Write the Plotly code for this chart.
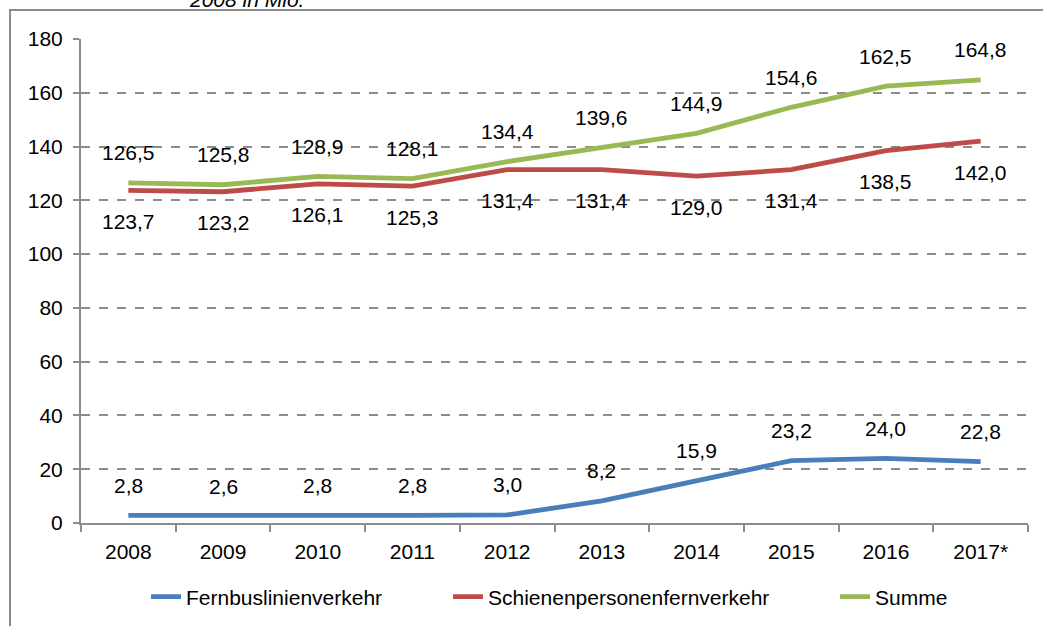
import plotly.graph_objects as go

# Werte (Mio. Fahrgäste)
jahre = ["2008", "2009", "2010", "2011", "2012", "2013", "2014", "2015", "2016", "2017*"]
fernbus = [2.8, 2.6, 2.8, 2.8, 3.0, 8.2, 15.9, 23.2, 24.0, 22.8]
schiene = [123.7, 123.2, 126.1, 125.3, 131.4, 131.4, 129.0, 131.4, 138.5, 142.0]
summe = [126.5, 125.8, 128.9, 128.1, 134.4, 139.6, 144.9, 154.6, 162.5, 164.8]

FONT = "Liberation Sans, Arial, sans-serif"
FS = 21
W, H, L, R, T, B = 1043, 626, 81, 15, 39, 103
PW = W - L - R
PH = H - T - B

serien = [
    ("Fernbuslinienverkehr", fernbus, "#4A7EBB", 30, "legend", 146),
    ("Schienenpersonenfernverkehr", schiene, "#BE4B48", -31, "legend2", 448),
    ("Summe", summe, "#98B954", 30, "legend3", 835),
]

fig = go.Figure()
annos = []
legenden = {}
for name, werte, farbe, shift, leg, lx in serien:
    fig.add_trace(go.Scatter(x=jahre, y=werte, name=name, mode="lines", legend=leg,
                             line=dict(color=farbe, width=4.8)))
    legenden[leg] = dict(xref="container", yref="container", x=lx / W, xanchor="left",
                         y=1 - 597 / H, yanchor="middle", orientation="h",
                         font=dict(family=FONT, size=FS), bgcolor="rgba(0,0,0,0)")
    # Datenbeschriftungen (Kategorie-Index, da "2008" sonst als Zahl gelesen wird)
    for i, v in enumerate(werte):
        annos.append(dict(x=i, y=v, text=f"{v:.1f}".replace(".", ","),
                          showarrow=False, yshift=shift,
                          font=dict(family=FONT, size=FS, color="black")))

# abgeschnittener Titel oben
annos.append(dict(xref="paper", yref="paper", x=(246 - L) / PW, y=1 + 40 / PH,
                  xanchor="center", yanchor="middle", text="<i>2008 in Mio.</i>",
                  showarrow=False, font=dict(family=FONT, size=FS, color="black")))

fig.update_layout(
    width=W, height=H,
    margin=dict(l=L, r=R, t=T, b=B),
    paper_bgcolor="white", plot_bgcolor="white",
    font=dict(family=FONT, size=FS, color="black"),
    annotations=annos,
    showlegend=True,
    **legenden,
    # Rahmen um das Diagramm (rechts/unten ausserhalb des Bildes)
    shapes=[dict(type="rect", xref="paper", yref="paper",
                 x0=(10 - L) / PW, x1=1.1, y0=-0.3, y1=1 + (T - 10) / PH,
                 line=dict(color="#8c8c8c", width=2), layer="below")],
)
fig.update_xaxes(type="category", showgrid=False, showline=True, linecolor="#8c8c8c",
                 linewidth=2, ticks="outside", tickson="boundaries", ticklen=7,
                 tickcolor="#8c8c8c", tickwidth=2, tickfont=dict(size=FS),
                 ticklabelstandoff=9, range=[-0.5, 9.5], automargin=False)
fig.update_yaxes(range=[0, 180], dtick=20, showgrid=True, gridcolor="#8c8c8c",
                 griddash="dash", gridwidth=1.5, showline=True, linecolor="#8c8c8c",
                 linewidth=2, ticks="outside", ticklen=6, tickcolor="#8c8c8c",
                 tickwidth=2, tickfont=dict(size=FS), ticklabelstandoff=6,
                 zeroline=False, automargin=False)

# Seitenrand entfernen, damit die Figur bei (0,0) beginnt
fig.write_html("out.html", config={"displayModeBar": False},
               post_script="document.body.style.margin='0';")
